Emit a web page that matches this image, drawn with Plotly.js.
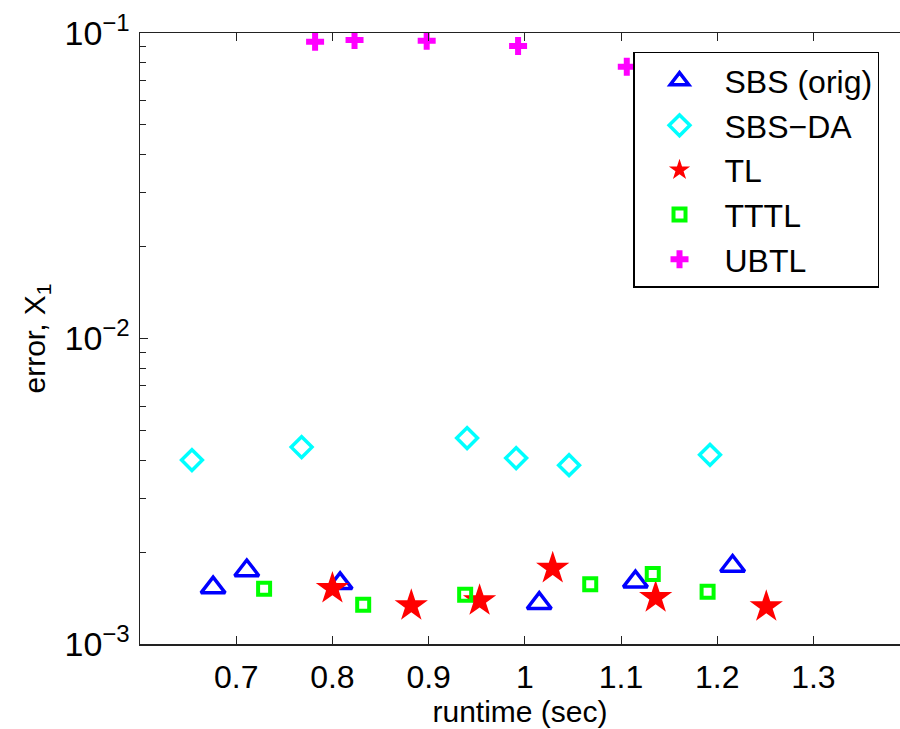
<!DOCTYPE html>
<html>
<head>
<meta charset="utf-8">
<script src="https://cdn.plot.ly/plotly-3.0.1.min.js"></script>
<style>html,body{margin:0;padding:0;overflow:hidden;background:#fff}</style>
</head>
<body>
<div id="chart" style="width:900px;height:729px"></div>
<script>
// Data
var sbsOrigX = [0.676, 0.711, 0.808, 1.015, 1.115, 1.216];
var sbsOrigY = [1.53e-3, 1.74e-3, 1.58e-3, 1.36e-3, 1.60e-3, 1.80e-3];

var sbsDaX = [0.654, 0.768, 0.940, 0.991, 1.046, 1.1925];
var sbsDaY = [4.00e-3, 4.41e-3, 4.72e-3, 4.06e-3, 3.85e-3, 4.16e-3];

var tlX = [0.800, 0.882, 0.953, 1.029, 1.136, 1.251];
var tlY = [1.52e-3, 1.335e-3, 1.386e-3, 1.77e-3, 1.42e-3, 1.325e-3];

var tttlX = [0.729, 0.832, 0.938, 1.068, 1.133, 1.190];
var tttlY = [1.517e-3, 1.345e-3, 1.45e-3, 1.568e-3, 1.695e-3, 1.483e-3];

var ubtlX = [0.782, 0.823, 0.898, 0.993, 1.106];
var ubtlY = [0.0937, 0.0949, 0.0944, 0.0907, 0.0776];

var seriesNames = ['SBS (orig)', 'SBS\u2212DA', 'TL', 'TTTL', 'UBTL'];

var xTickVals = [0.7, 0.8, 0.9, 1, 1.1, 1.2, 1.3];
var xTickText = ['0.7', '0.8', '0.9', '1', '1.1', '1.2', '1.3'];

var yTickVals = [1e-3, 1e-2, 1e-1];
var yTickText = [
  '10<sup><span style="font-size:24px">\u22123</span></sup>',
  '10<sup><span style="font-size:24px">\u22122</span></sup>',
  '10<sup><span style="font-size:24px">\u22121</span></sup>'
];

var traces = [
  {x: sbsOrigX, y: sbsOrigY, name: seriesNames[0], mode: 'markers', type: 'scatter',
   marker: {symbol: 'triangle-up-open', size: 21, color: '#0000ff', line: {width: 3.5, color: '#0000ff'}}},
  {x: sbsDaX, y: sbsDaY, name: seriesNames[1], mode: 'markers', type: 'scatter',
   marker: {symbol: 'diamond-open', size: 16, color: '#00ffff', line: {width: 3.5, color: '#00ffff'}}},
  {x: tlX, y: tlY, name: seriesNames[2], mode: 'markers', type: 'scatter',
   marker: {symbol: 'star', size: 25, color: '#ff0000', line: {width: 0}}},
  {x: tttlX, y: tttlY, name: seriesNames[3], mode: 'markers', type: 'scatter',
   marker: {symbol: 'square-open', size: 12, color: '#00ff00', line: {width: 4, color: '#00ff00'}}},
  {x: ubtlX, y: ubtlY, name: seriesNames[4], mode: 'markers', type: 'scatter',
   marker: {symbol: 'cross', size: 15, color: '#ff00ff', line: {width: 0}}}
];

var fontFam = 'Liberation Sans, Arial, Helvetica, sans-serif';

var layout = {
  width: 900, height: 729,
  margin: {l: 140, r: 0, t: 33, b: 85},
  paper_bgcolor: '#ffffff', plot_bgcolor: '#ffffff',
  font: {family: fontFam, color: '#000000'},
  showlegend: true,
  xaxis: {
    range: [0.6, 1.39],
    tickvals: xTickVals, ticktext: xTickText,
    ticks: 'inside', ticklen: 8, tickwidth: 1, tickcolor: '#222',
    showline: true, linecolor: '#222', linewidth: 1.5, mirror: 'ticks',
    showgrid: false, zeroline: false,
    tickfont: {size: 32, family: fontFam},
    ticklabelstandoff: 4,
    title: {text: 'runtime (sec)', font: {size: 30, family: fontFam}, standoff: 6}
  },
  yaxis: {
    type: 'log',
    range: [-3, -1],
    tickvals: yTickVals, ticktext: yTickText,
    ticks: 'inside', ticklen: 8, tickwidth: 1, tickcolor: '#222',
    minor: {dtick: 'D1', ticks: 'inside', ticklen: 6, tickwidth: 1, tickcolor: '#222', showgrid: false},
    showline: true, linecolor: '#222', linewidth: 1.5, mirror: false,
    showgrid: false, zeroline: false,
    tickfont: {size: 34, family: fontFam},
    ticklabelstandoff: 2,
    title: {text: 'error, X<sub>1</sub>', font: {size: 30, family: fontFam}, standoff: 10}
  },
  legend: {
    x: 0.6487, y: 0.969, xanchor: 'left', yanchor: 'top',
    bgcolor: '#ffffff', bordercolor: '#000000', borderwidth: 1.5,
    font: {size: 32, family: fontFam, color: '#000000'},
    itemwidth: 80,
    tracegroupgap: 0
  }
};

Plotly.newPlot('chart', traces, layout, {displayModeBar: false, staticPlot: true});
</script>
</body>
</html>
